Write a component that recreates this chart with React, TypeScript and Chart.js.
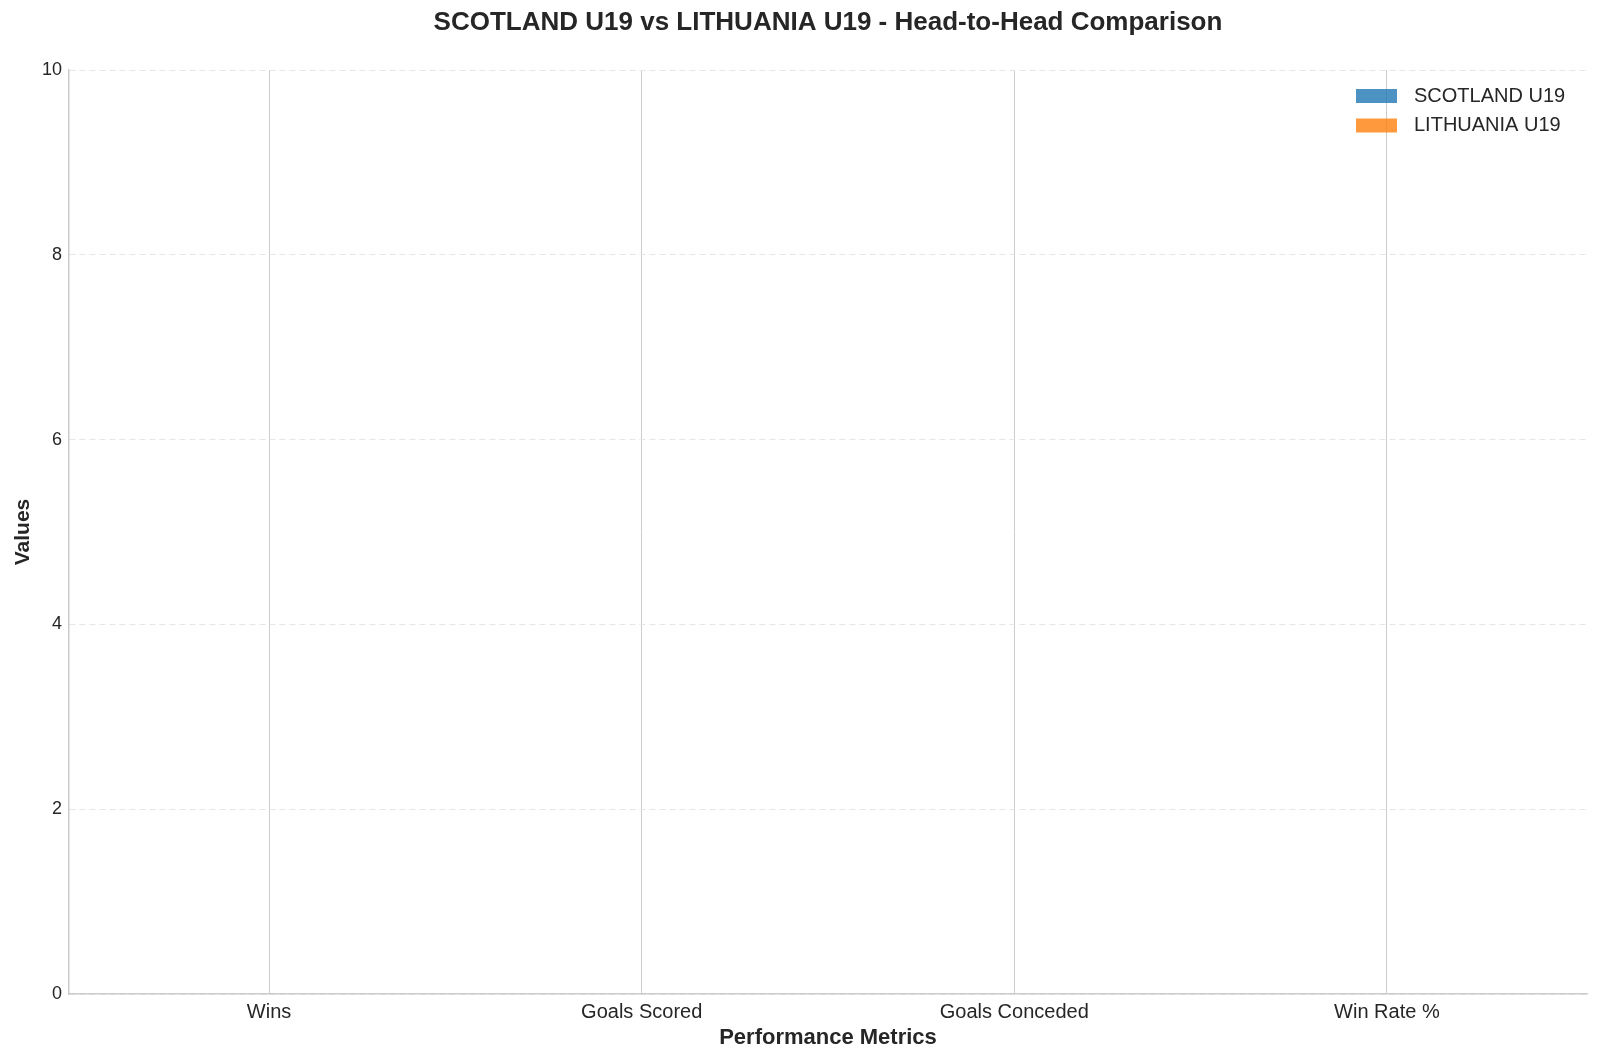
import React, { useEffect, useRef } from "react";
import { Chart, registerables } from "chart.js";

Chart.register(...registerables);

const categories = ["Wins", "Goals Scored", "Goals Conceded", "Win Rate %"];
const scotlandValues = [0, 0, 0, 0];
const lithuaniaValues = [0, 0, 0, 0];
const teamNames = ["SCOTLAND U19", "LITHUANIA U19"];
const teamColors = ["rgba(31,119,180,0.8)", "rgba(255,127,14,0.8)"];
const titleText = "SCOTLAND U19 vs LITHUANIA U19 - Head-to-Head Comparison";
const xTitle = "Performance Metrics";
const yTitle = "Values";
const yMin = 0;
const yMax = 10;
const yStep = 2;

const FONT = "'Liberation Sans', Arial, Helvetica, sans-serif";
const TEXT = "#262626";

const titlePlugin = {
  id: "centeredTitle",
  afterDraw(chart: any) {
    const { ctx, chartArea } = chart;
    ctx.save();
    ctx.font = `bold 26px ${FONT}`;
    ctx.fillStyle = TEXT;
    ctx.textAlign = "center";
    ctx.textBaseline = "middle";
    ctx.fillText(titleText, (chartArea.left + chartArea.right) / 2, 23);
    ctx.restore();
  },
};

const legendPlugin = {
  id: "insideLegend",
  afterDraw(chart: any) {
    const { ctx, chartArea } = chart;
    ctx.save();
    chart.data.datasets.forEach((ds: any, i: number) => {
      const yc = chartArea.top + 26 + i * 29.5;
      const bx = chartArea.right - 231;
      ctx.fillStyle = ds.backgroundColor;
      ctx.fillRect(bx, yc - 7, 41, 14);
      ctx.font = `20px ${FONT}`;
      ctx.fillStyle = TEXT;
      ctx.textAlign = "left";
      ctx.textBaseline = "middle";
      ctx.fillText(ds.label, bx + 58, yc);
    });
    ctx.restore();
  },
};

export default function App() {
  const canvasRef = useRef<HTMLCanvasElement | null>(null);

  useEffect(() => {
    if (!canvasRef.current) return;
    const seriesValues = [scotlandValues, lithuaniaValues];
    const chart = new Chart(canvasRef.current, {
      type: "bar",
      data: {
        datasets: teamNames.map((name, s) => ({
          label: name,
          data: seriesValues[s].map((v, i) => ({ x: i + (s === 0 ? -0.175 : 0.175), y: v })),
          backgroundColor: teamColors[s],
          borderWidth: 0,
          inflateAmount: 0,
          grouped: false,
          barThickness: 120,
        })),
      },
      plugins: [titlePlugin, legendPlugin],
      options: {
        animation: false,
        responsive: false,
        devicePixelRatio: 1,
        layout: { padding: { top: 70, right: 13, left: 0, bottom: 0 } },
        plugins: {
          legend: { display: false },
          tooltip: { enabled: false },
          title: { display: false },
        },
        scales: {
          x: {
            type: "linear",
            min: -0.537,
            max: 3.537,
            offset: false,
            afterFit: (s: any) => {
              s.height = 69;
            },
            ticks: {
              stepSize: 1,
              includeBounds: false,
              autoSkip: false,
              maxRotation: 0,
              padding: 6,
              color: TEXT,
              font: { family: FONT, size: 20 },
              callback: (v: any) => categories[v] ?? "",
            },
            grid: { color: "#cccccc", lineWidth: 1, drawTicks: false, offset: false },
            border: { color: "#cccccc", width: 1.5 },
            title: {
              display: true,
              text: xTitle,
              color: TEXT,
              font: { family: FONT, size: 22, weight: "bold" },
              padding: { top: 0, bottom: 12 },
            },
          },
          y: {
            min: yMin,
            max: yMax,
            afterFit: (s: any) => {
              s.width = 69;
            },
            ticks: {
              stepSize: yStep,
              padding: 7,
              color: TEXT,
              font: { family: FONT, size: 18 },
            },
            grid: { color: "#e6e6e6", lineWidth: 1, drawTicks: false },
            border: { color: "#cccccc", width: 1.5, dash: [6, 4] },
            title: {
              display: true,
              text: yTitle,
              color: TEXT,
              font: { family: FONT, size: 21, weight: "bold" },
              padding: { top: 11, bottom: 0 },
            },
          },
        },
      } as any,
    });
    return () => chart.destroy();
  }, []);

  return (
    <div style={{ position: "fixed", left: 0, top: 0, width: 1600, height: 1063, background: "#fff" }}>
      <canvas ref={canvasRef} width={1600} height={1063} />
    </div>
  );
}
